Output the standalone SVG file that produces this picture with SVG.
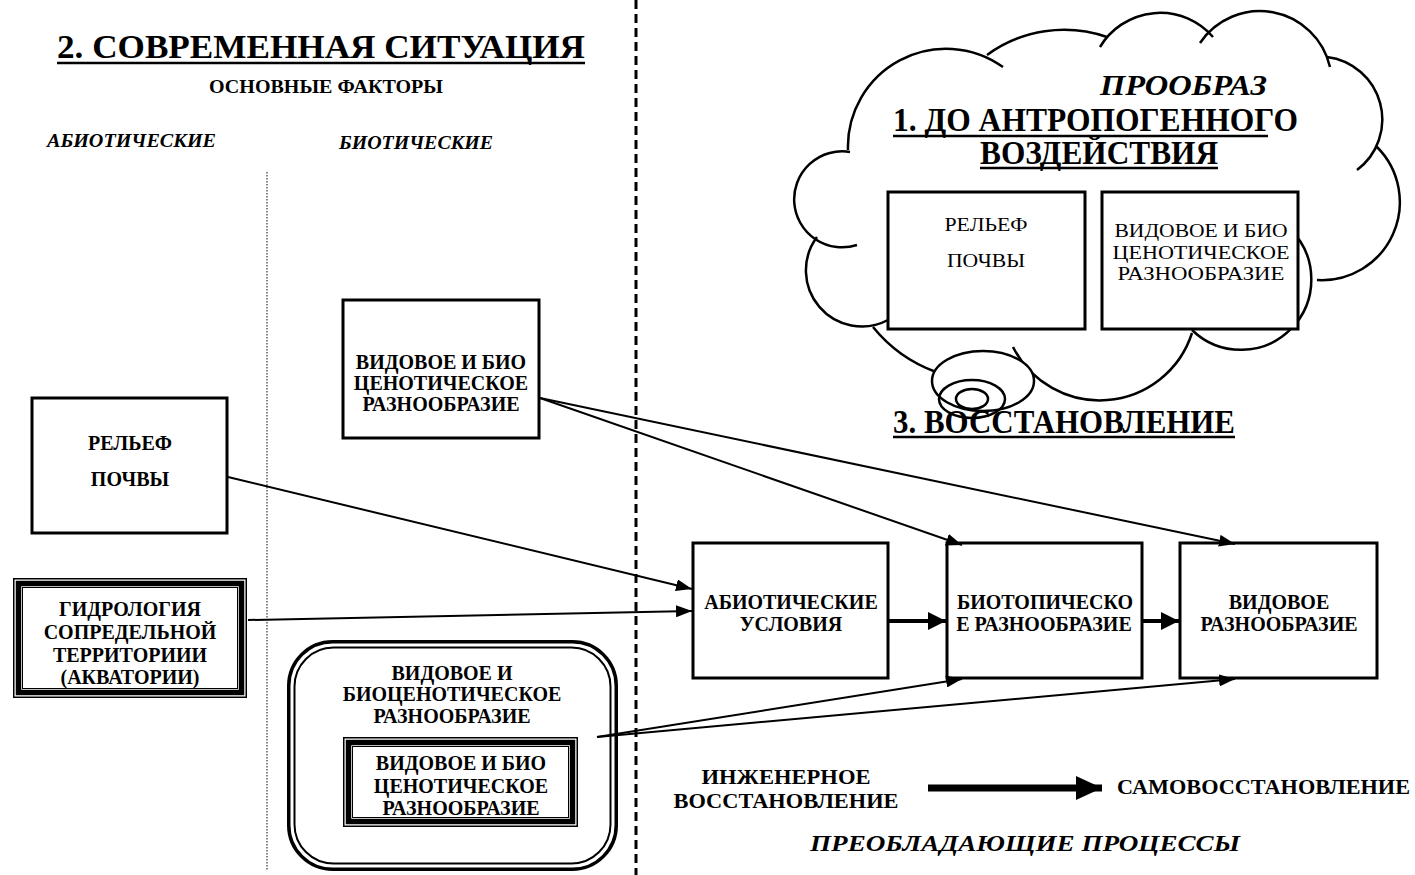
<svg xmlns="http://www.w3.org/2000/svg" width="1415" height="875" viewBox="0 0 1415 875">
<style>
text{font-family:'Liberation Serif','Times New Roman',serif;fill:#000}
.t{font-weight:bold;text-anchor:middle;font-size:20px}
.r{font-weight:normal;text-anchor:middle;font-size:19.5px}
.h{font-weight:bold;font-size:34px}
.i{font-weight:bold;font-style:italic}
.box{fill:#fff;stroke:#000;stroke-width:3}
.ul{stroke:#000;stroke-width:2.5}
.cl{fill:none;stroke:#000;stroke-width:2.5}
.c{stroke:#000;stroke-width:2;fill:none}
</style>
<defs>
<marker id="ah" viewBox="0 0 16 12" refX="16" refY="6" markerWidth="16" markerHeight="12" orient="auto" markerUnits="userSpaceOnUse"><path d="M0,0 L16,6 L0,12 z" fill="#000"/></marker>
<marker id="ahb" viewBox="0 0 18 18" refX="18" refY="9" markerWidth="18" markerHeight="18" orient="auto" markerUnits="userSpaceOnUse"><path d="M0,0 L18,9 L0,18 z" fill="#000"/></marker>
<marker id="ahl" viewBox="0 0 26 24" refX="26" refY="12" markerWidth="26" markerHeight="24" orient="auto" markerUnits="userSpaceOnUse"><path d="M0,0 L26,12 L0,24 z" fill="#000"/></marker>
</defs>
<rect width="1415" height="875" fill="#fff"/>

<!-- divider lines -->
<line x1="636" y1="0" x2="636" y2="875" stroke="#000" stroke-width="3" stroke-dasharray="9 5"/>
<line x1="267" y1="172" x2="267" y2="870" stroke="#333" stroke-width="1.2" stroke-dasharray="1.5 1.5"/>

<!-- headings left -->
<g id="heading-current">
<text class="h" x="57" y="58" textLength="528" lengthAdjust="spacingAndGlyphs">2. СОВРЕМЕННАЯ СИТУАЦИЯ</text>
<line class="ul" x1="57" y1="63" x2="585" y2="63"/>
<text x="209" y="93" font-weight="bold" font-size="19" textLength="234" lengthAdjust="spacingAndGlyphs">ОСНОВНЫЕ ФАКТОРЫ</text>
<text class="i" x="47" y="147" font-size="19" textLength="169" lengthAdjust="spacingAndGlyphs">АБИОТИЧЕСКИЕ</text>
<text class="i" x="339" y="149" font-size="19" textLength="154" lengthAdjust="spacingAndGlyphs">БИОТИЧЕСКИЕ</text>
</g>

<!-- cloud -->
<g id="cloud">
<path class="cl" d="M848,150 A98,98 0 0 1 1003,67 M987,55 A131,131 0 0 1 1107,37 M1100,47 A70,70 0 0 1 1213,37 M1200,43 A72,72 0 0 1 1330,67 M1327,57 A63,63 0 0 1 1357,170 M1377,147 A78,78 0 0 1 1317,280 M1290,229 A70,70 0 0 1 1192,330 M1192,333 A97,97 0 0 1 1013,347 M936,372 A145,145 0 0 1 873,327 M888,320 A56,56 0 0 1 817,237 M857,245 A48,48 0 1 1 850,152"/>
<ellipse cx="983" cy="381" rx="51" ry="30" fill="#fff" stroke="#000" stroke-width="2.5"/>
<ellipse cx="972" cy="399" rx="33" ry="19" fill="none" stroke="#000" stroke-width="2.5"/>
<ellipse cx="972" cy="399" rx="16" ry="10" fill="none" stroke="#000" stroke-width="2.5"/>
<text class="i" x="1100" y="95" font-size="29" textLength="167" lengthAdjust="spacingAndGlyphs">ПРООБРАЗ</text>
<text class="h" x="893" y="131" textLength="405" lengthAdjust="spacingAndGlyphs">1. ДО АНТРОПОГЕННОГО</text>
<line class="ul" x1="893" y1="136" x2="1268" y2="136"/>
<text class="h" x="980" y="164" textLength="238" lengthAdjust="spacingAndGlyphs">ВОЗДЕЙСТВИЯ</text>
<line class="ul" x1="980" y1="168" x2="1218" y2="168"/>
</g>

<g id="proto-relief">
<rect class="box" x="888" y="192" width="197" height="137"/>
<text class="r" x="986" y="231" textLength="83" lengthAdjust="spacingAndGlyphs">РЕЛЬЕФ</text>
<text class="r" x="986" y="267" textLength="78" lengthAdjust="spacingAndGlyphs">ПОЧВЫ</text>
</g>
<g id="proto-species">
<rect class="box" x="1102" y="192" width="196" height="137"/>
<text class="r" x="1201" y="237" textLength="173" lengthAdjust="spacingAndGlyphs">ВИДОВОЕ И БИО</text>
<text class="r" x="1201" y="259" textLength="177" lengthAdjust="spacingAndGlyphs">ЦЕНОТИЧЕСКОЕ</text>
<text class="r" x="1201" y="280" textLength="167" lengthAdjust="spacingAndGlyphs">РАЗНООБРАЗИЕ</text>
</g>

<g id="heading-restore">
<text class="h" x="893" y="433" textLength="342" lengthAdjust="spacingAndGlyphs">3. ВОССТАНОВЛЕНИЕ</text>
<line class="ul" x1="893" y1="437" x2="1235" y2="437"/>
</g>

<!-- left nodes -->
<g id="relief">
<rect class="box" x="32" y="398" width="195" height="135"/>
<text class="t" x="130" y="450">РЕЛЬЕФ</text>
<text class="t" x="130" y="486">ПОЧВЫ</text>
</g>
<g id="hydrology">
<rect x="13.75" y="578.75" width="232.5" height="118.5" fill="#fff" stroke="#000" stroke-width="1.5"/>
<rect x="18.5" y="583.5" width="223" height="109" fill="none" stroke="#000" stroke-width="5.5"/>
<rect x="22.5" y="587.5" width="215" height="101" fill="none" stroke="#000" stroke-width="1"/>
<text class="t" x="130" y="616">ГИДРОЛОГИЯ</text>
<text class="t" x="130" y="639">СОПРЕДЕЛЬНОЙ</text>
<text class="t" x="130" y="662">ТЕРРИТОРИИИ</text>
<text class="t" x="130" y="684">(АКВАТОРИИ)</text>
</g>
<g id="biotic-top">
<rect class="box" x="343" y="300" width="196" height="138"/>
<text class="t" x="441" y="369">ВИДОВОЕ И БИО</text>
<text class="t" x="441" y="390">ЦЕНОТИЧЕСКОЕ</text>
<text class="t" x="441" y="411">РАЗНООБРАЗИЕ</text>
</g>
<g id="biotic-group">
<rect x="288.75" y="641.75" width="327.5" height="227.5" rx="44" fill="#fff" stroke="#000" stroke-width="3.5"/>
<rect x="294.5" y="647.5" width="316" height="216" rx="39" fill="none" stroke="#000" stroke-width="2"/>
<text class="t" x="452" y="680">ВИДОВОЕ И</text>
<text class="t" x="452" y="701">БИОЦЕНОТИЧЕСКОЕ</text>
<text class="t" x="452" y="723">РАЗНООБРАЗИЕ</text>
</g>
<g id="biotic-inner">
<rect x="343.75" y="737.75" width="233.5" height="88.5" fill="#fff" stroke="#000" stroke-width="1.5"/>
<rect x="348.5" y="742.5" width="224" height="79" fill="none" stroke="#000" stroke-width="5.5"/>
<rect x="352.5" y="746.5" width="216" height="71" fill="none" stroke="#000" stroke-width="1"/>
<text class="t" x="461" y="770">ВИДОВОЕ И БИО</text>
<text class="t" x="461" y="793">ЦЕНОТИЧЕСКОЕ</text>
<text class="t" x="461" y="815">РАЗНООБРАЗИЕ</text>
</g>

<!-- chain -->
<g id="abiotic">
<rect class="box" x="693" y="543" width="195" height="135"/>
<text class="t" x="791" y="609">АБИОТИЧЕСКИЕ</text>
<text class="t" x="791" y="631">УСЛОВИЯ</text>
</g>
<g id="biotopic">
<rect class="box" x="947" y="543" width="195" height="135"/>
<text class="t" x="1045" y="609">БИОТОПИЧЕСКО</text>
<text class="t" x="1044" y="631">Е РАЗНООБРАЗИЕ</text>
</g>
<g id="species">
<rect class="box" x="1180" y="543" width="197" height="135"/>
<text class="t" x="1279" y="609">ВИДОВОЕ</text>
<text class="t" x="1279" y="631">РАЗНООБРАЗИЕ</text>
</g>

<!-- legend -->
<g id="legend">
<text class="t" x="786" y="784" font-size="21" textLength="169" lengthAdjust="spacingAndGlyphs">ИНЖЕНЕРНОЕ</text>
<text class="t" x="786" y="808" font-size="21" textLength="225" lengthAdjust="spacingAndGlyphs">ВОССТАНОВЛЕНИЕ</text>
<text x="1117" y="794" font-weight="bold" font-size="21" textLength="293" lengthAdjust="spacingAndGlyphs">САМОВОССТАНОВЛЕНИЕ</text>
<text class="i" x="810" y="851" font-size="24" textLength="430" lengthAdjust="spacingAndGlyphs">ПРЕОБЛАДАЮЩИЕ ПРОЦЕССЫ</text>
</g>

<!-- connectors -->
<g id="connectors">
<line class="c" x1="228" y1="477" x2="692" y2="589" marker-end="url(#ah)"/>
<line class="c" x1="248" y1="620" x2="692" y2="611" marker-end="url(#ah)"/>
<line class="c" x1="540" y1="398" x2="962" y2="545" marker-end="url(#ah)"/>
<line class="c" x1="540" y1="398" x2="1235" y2="544" marker-end="url(#ah)"/>
<line class="c" x1="597" y1="737" x2="962" y2="679" marker-end="url(#ah)"/>
<line class="c" x1="597" y1="737" x2="1235" y2="679" marker-end="url(#ah)"/>
<line x1="888" y1="621" x2="946" y2="621" stroke="#000" stroke-width="4" marker-end="url(#ahb)"/>
<line x1="1142" y1="621" x2="1179" y2="621" stroke="#000" stroke-width="4" marker-end="url(#ahb)"/>
<line x1="928" y1="788" x2="1102" y2="788" stroke="#000" stroke-width="7" marker-end="url(#ahl)"/>
</g>
</svg>
